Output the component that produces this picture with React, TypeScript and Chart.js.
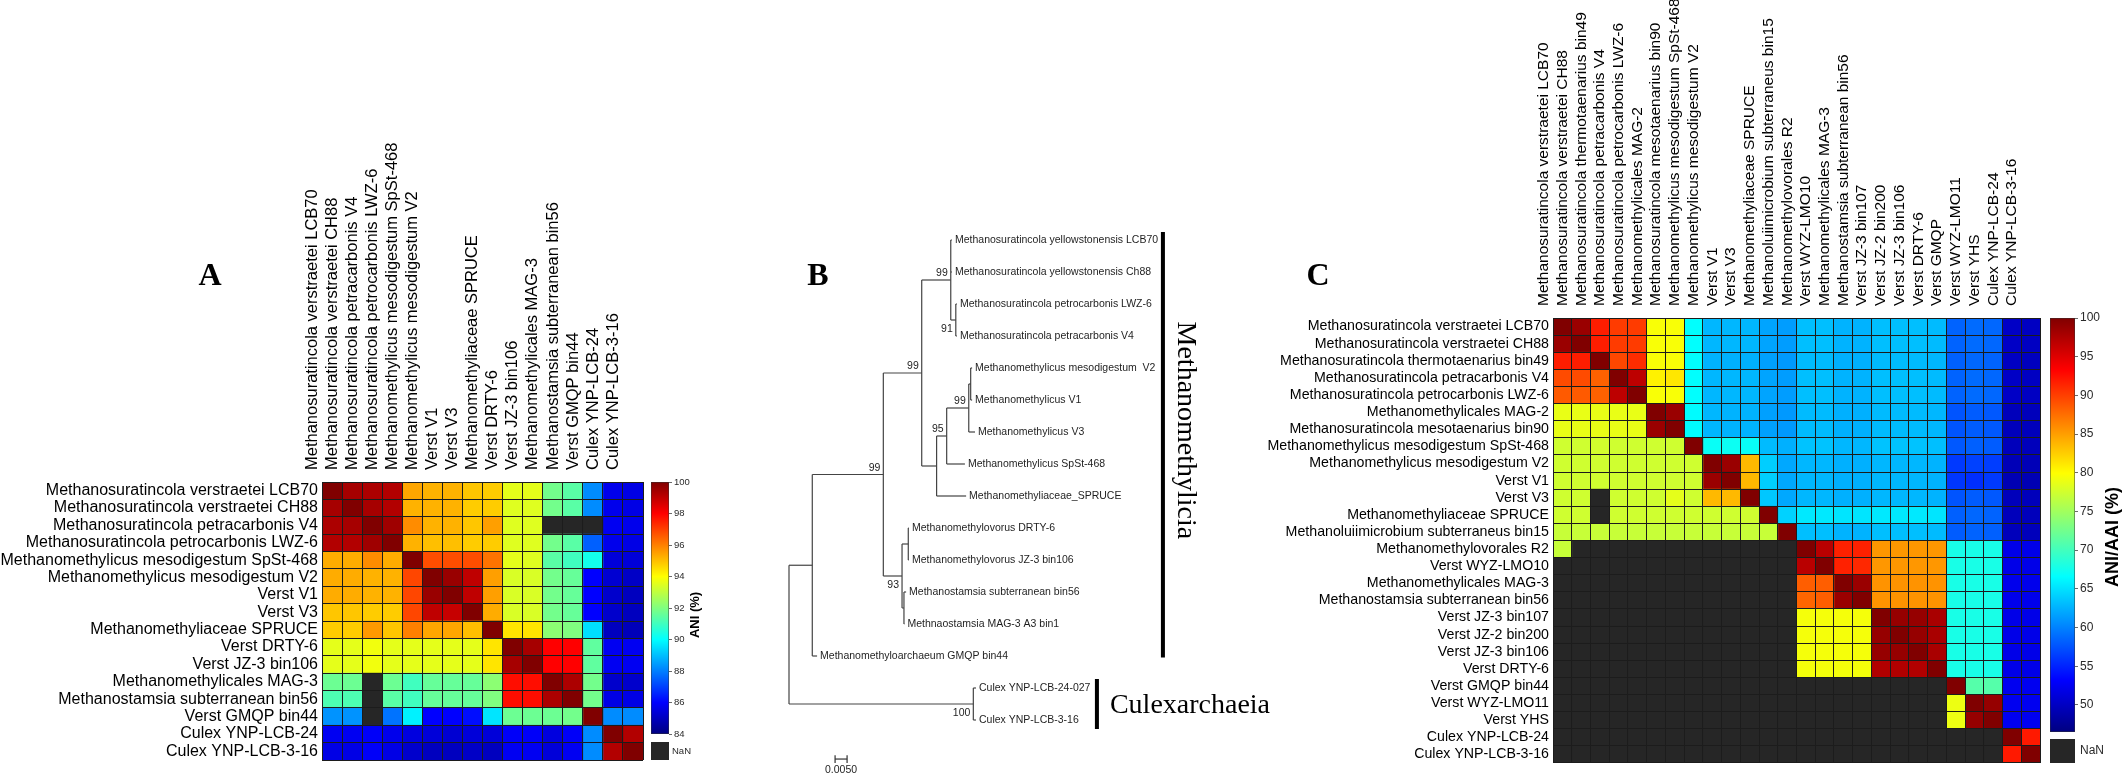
import React, { useEffect, useRef } from 'react';
import { Chart, registerables } from 'chart.js';

Chart.register(...registerables);

const SANS = '"Liberation Sans", Arial, Helvetica, sans-serif';
const SERIF = '"Liberation Serif", "Times New Roman", Times, serif';
const GRID = '#1c1c1c';
const NAN_COLOR = '#262626';

// ================= Panel A : ANI =================
const aniLabels = [
  'Methanosuratincola verstraetei LCB70',
  'Methanosuratincola verstraetei CH88',
  'Methanosuratincola petracarbonis V4',
  'Methanosuratincola petrocarbonis LWZ-6',
  'Methanomethylicus mesodigestum SpSt-468',
  'Methanomethylicus mesodigestum V2',
  'Verst V1',
  'Verst V3',
  'Methanomethyliaceae SPRUCE',
  'Verst DRTY-6',
  'Verst JZ-3 bin106',
  'Methanomethylicales MAG-3',
  'Methanostamsia subterranean bin56',
  'Verst GMQP bin44',
  'Culex YNP-LCB-24',
  'Culex YNP-LCB-3-16',
];
const aniRange = [84, 100];
const aniTicks = [84, 86, 88, 90, 92, 94, 96, 98, 100];
const aniValues: (number | null)[][] = [
  [100, 99.4, 99.3, 99.2, 95.4, 95.2, 95.2, 94.9, 94.8, 93.6, 93.6, 91.8, 91.4, 88.2, 85.7, 85.6],
  [99.4, 100, 99.4, 99.2, 95.2, 95.2, 95.2, 94.8, 94.8, 93.5, 93.5, 91.8, 91.4, 88.2, 85.7, 85.6],
  [99.3, 99.4, 100, 99.5, 95.8, 95.2, 95.2, 94.9, 95.5, 93.5, 93.5, null, null, null, 85.8, 85.7],
  [99.2, 99.2, 99.5, 100, 95.2, 95.0, 95.0, 94.8, 94.8, 93.5, 93.5, 91.8, 91.4, 87.5, 85.7, 85.6],
  [95.3, 95.3, 95.8, 95.3, 100, 96.8, 96.8, 96.8, 96.2, 93.6, 93.5, 91.4, 91.0, 90.3, 85.4, 85.4],
  [95.3, 95.3, 95.2, 95.2, 96.9, 100, 99.6, 99.0, 95.5, 93.4, 93.4, 91.8, 91.6, 86.0, 85.3, 85.1],
  [95.3, 95.3, 95.2, 95.2, 96.9, 99.6, 100, 99.0, 95.5, 93.4, 93.4, 91.8, 91.6, 86.0, 85.2, 85.0],
  [94.9, 94.9, 94.8, 94.8, 96.9, 99.0, 98.9, 100, 95.3, 93.4, 93.4, 91.8, 91.6, 86.0, 85.2, 85.0],
  [94.8, 94.8, 95.6, 94.9, 96.0, 95.4, 95.4, 95.0, 100, 94.4, 94.4, 92.2, 92.0, 89.5, 85.0, 84.9],
  [93.6, 93.6, 93.8, 93.6, 93.6, 93.6, 93.6, 93.6, 94.4, 100, 99.4, 98.0, 98.0, 91.5, 85.8, 85.8],
  [93.6, 93.6, 93.8, 93.6, 93.6, 93.6, 93.6, 93.6, 94.4, 99.4, 100, 98.0, 98.0, 91.5, 85.8, 85.8],
  [91.7, 91.7, null, 91.7, 91.0, 91.6, 91.6, 91.6, 92.2, 97.8, 97.8, 100, 99.3, 91.8, 85.2, 85.2],
  [91.2, 91.2, null, 91.4, 91.0, 91.6, 91.6, 91.6, 92.0, 97.8, 97.8, 99.3, 100, 91.8, 85.6, 85.6],
  [88.3, 88.3, null, 87.8, 89.8, 86.0, 86.0, 86.2, 89.6, 91.7, 91.7, 91.7, 91.8, 100, 88.2, 88.2],
  [85.8, 85.8, 85.9, 85.7, 85.5, 85.4, 85.3, 85.4, 85.4, 85.9, 85.9, 85.5, 85.9, 88.2, 100, 99.2],
  [85.6, 85.6, 85.9, 85.6, 85.2, 85.0, 85.0, 85.1, 85.0, 85.8, 85.8, 85.4, 85.8, 88.2, 99.2, 100],
];

// ================= Panel C : ANI/AAI =================
const aaiRowLabels = [
  'Methanosuratincola verstraetei LCB70',
  'Methanosuratincola verstraetei CH88',
  'Methanosuratincola thermotaenarius bin49',
  'Methanosuratincola petracarbonis V4',
  'Methanosuratincola petrocarbonis LWZ-6',
  'Methanomethylicales MAG-2',
  'Methanosuratincola mesotaenarius bin90',
  'Methanomethylicus mesodigestum SpSt-468',
  'Methanomethylicus mesodigestum V2',
  'Verst V1',
  'Verst V3',
  'Methanomethyliaceae SPRUCE',
  'Methanoluiimicrobium subterraneus bin15',
  'Methanomethylovorales R2',
  'Verst WYZ-LMO10',
  'Methanomethylicales MAG-3',
  'Methanostamsia subterranean bin56',
  'Verst JZ-3 bin107',
  'Verst JZ-2 bin200',
  'Verst JZ-3 bin106',
  'Verst DRTY-6',
  'Verst GMQP bin44',
  'Verst WYZ-LMO11',
  'Verst YHS',
  'Culex YNP-LCB-24',
  'Culex YNP-LCB-3-16',
];
const aaiColLabels = [
  'Methanosuratincola verstraetei LCB70',
  'Methanosuratincola verstraetei CH88',
  'Methanosuratincola thermotaenarius bin49',
  'Methanosuratincola petracarbonis V4',
  'Methanosuratincola petrocarbonis LWZ-6',
  'Methanomethylicales MAG-2',
  'Methanosuratincola mesotaenarius bin90',
  'Methanomethylicus mesodigestum SpSt-468',
  'Methanomethylicus mesodigestum V2',
  'Verst V1',
  'Verst V3',
  'Methanomethyliaceae SPRUCE',
  'Methanoluiimicrobium subterraneus bin15',
  'Methanomethylovorales R2',
  'Verst WYZ-LMO10',
  'Methanomethylicales MAG-3',
  'Methanostamsia subterranean bin56',
  'Verst JZ-3 bin107',
  'Verst JZ-2 bin200',
  'Verst JZ-3 bin106',
  'Verst DRTY-6',
  'Verst GMQP',
  'Verst WYZ-LMO11',
  'Verst YHS',
  'Culex YNP-LCB-24',
  'Culex YNP-LCB-3-16',
];
const aaiRange = [46.5, 100];
const aaiTicks = [50, 55, 60, 65, 70, 75, 80, 85, 90, 95, 100];
const _ = null;
const aaiValues: (number | null)[][] = [
  [100, 98.6, 91.8, 90.2, 90.2, 79.6, 79.6, 66.6, 62.8, 62.8, 62.8, 61.8, 61.4, 63.2, 63.2, 62.6, 62.6, 63.2, 63.2, 63.2, 63.0, 58.4, 58.8, 58.6, 50.2, 50.0],
  [98.6, 100, 91.8, 90.2, 90.2, 79.6, 79.6, 66.6, 62.8, 62.8, 62.8, 61.8, 61.4, 63.2, 63.2, 62.6, 62.6, 63.2, 63.2, 63.2, 63.0, 58.4, 58.8, 58.6, 50.2, 50.0],
  [91.8, 91.8, 100, 89.6, 91.0, 79.6, 79.6, 66.6, 62.6, 62.4, 62.4, 61.6, 61.2, 63.0, 63.0, 62.4, 62.4, 63.0, 63.0, 63.0, 62.8, 58.2, 58.6, 58.4, 50.0, 49.8],
  [89.4, 89.4, 88.2, 100, 96.8, 80.6, 81.2, 66.6, 62.8, 62.8, 62.8, 61.8, 61.4, 63.2, 63.2, 62.6, 62.6, 63.2, 63.2, 63.2, 63.0, 58.4, 58.8, 58.6, 50.2, 50.0],
  [88.6, 88.6, 88.2, 96.8, 100, 79.6, 79.6, 66.6, 62.8, 62.8, 62.8, 61.8, 61.4, 63.2, 63.2, 62.6, 62.6, 63.2, 63.2, 63.2, 63.0, 58.4, 58.8, 58.6, 50.2, 50.0],
  [78.8, 78.8, 78.8, 78.8, 78.8, 100, 98.6, 66.4, 62.8, 62.6, 62.6, 61.6, 61.2, 63.0, 63.0, 62.4, 62.4, 63.0, 63.0, 63.0, 62.8, 57.6, 58.0, 57.8, 49.6, 49.6],
  [78.8, 78.8, 78.8, 78.8, 78.8, 98.6, 100, 66.4, 62.8, 62.6, 62.6, 61.6, 61.2, 63.0, 63.0, 62.4, 62.4, 63.0, 63.0, 63.0, 62.8, 57.6, 58.0, 57.8, 49.6, 49.6],
  [77.4, 77.4, 77.6, 77.4, 77.4, 77.4, 77.4, 100, 67.0, 67.2, 67.0, 63.0, 62.4, 63.4, 63.4, 62.8, 62.8, 63.4, 63.4, 63.4, 63.2, 57.8, 58.2, 58.0, 49.6, 49.6],
  [77.4, 77.4, 77.4, 77.4, 77.4, 77.4, 77.4, 77.4, 100, 98.6, 83.6, 64.0, 62.0, 62.8, 62.8, 62.4, 62.4, 62.8, 62.8, 62.8, 62.6, 56.2, 56.6, 56.4, 49.4, 49.4],
  [77.4, 77.4, 77.4, 77.4, 77.4, 77.4, 77.4, 77.4, 98.6, 100, 83.6, 64.0, 62.0, 62.8, 62.8, 62.4, 62.4, 62.8, 62.8, 62.8, 62.6, 56.0, 55.6, 56.2, 49.2, 49.2],
  [77.4, 77.4, _, 77.4, 77.4, 77.4, 78.6, 77.4, 83.6, 83.6, 100, 63.6, 62.0, 62.8, 62.8, 62.4, 62.4, 62.8, 62.8, 62.8, 62.6, 57.6, 58.0, 57.8, 49.6, 49.6],
  [77.4, 77.4, _, 77.4, 77.4, 77.4, 77.4, 77.4, 77.4, 77.4, 77.4, 100, 64.2, 65.4, 65.4, 65.2, 65.2, 65.4, 65.4, 65.4, 65.2, 58.2, 58.6, 58.4, 49.6, 49.6],
  [77.0, 77.0, 77.0, 77.0, 77.0, 77.0, 77.0, 77.0, 77.0, 77.0, 77.0, 77.0, 100, 63.2, 63.2, 62.6, 62.6, 63.2, 63.2, 63.2, 63.0, 58.0, 58.4, 58.2, 49.6, 49.6],
  [77.0, _, _, _, _, _, _, _, _, _, _, _, _, 100, 97.0, 91.6, 91.6, 85.4, 85.4, 85.4, 85.4, 67.8, 67.8, 67.8, 52.0, 52.0],
  [_, _, _, _, _, _, _, _, _, _, _, _, _, 97.0, 100, 91.6, 91.2, 85.4, 85.4, 85.4, 85.4, 67.8, 67.8, 67.8, 52.0, 52.0],
  [_, _, _, _, _, _, _, _, _, _, _, _, _, 88.4, 88.4, 100, 98.6, 85.6, 85.6, 85.6, 85.6, 67.8, 67.8, 67.8, 52.2, 52.2],
  [_, _, _, _, _, _, _, _, _, _, _, _, _, 88.0, 88.4, 98.6, 100, 85.6, 85.6, 85.6, 85.6, 67.8, 67.8, 67.8, 52.2, 52.2],
  [_, _, _, _, _, _, _, _, _, _, _, _, _, 79.4, 79.4, 79.4, 79.4, 100, 98.8, 98.8, 97.8, 67.8, 67.8, 67.8, 52.0, 52.0],
  [_, _, _, _, _, _, _, _, _, _, _, _, _, 79.4, 79.4, 79.4, 79.4, 98.8, 100, 98.8, 97.8, 67.8, 67.8, 67.8, 52.0, 52.0],
  [_, _, _, _, _, _, _, _, _, _, _, _, _, 79.4, 79.4, 79.4, 79.4, 98.8, 98.8, 100, 97.8, 67.8, 67.8, 67.8, 52.0, 52.0],
  [_, _, _, _, _, _, _, _, _, _, _, _, _, 79.4, 79.4, 79.4, 79.4, 97.4, 97.4, 97.4, 100, 67.8, 67.8, 67.8, 52.0, 52.0],
  [_, _, _, _, _, _, _, _, _, _, _, _, _, _, _, _, _, _, _, _, _, 100, 71.0, 71.0, 52.4, 52.4],
  [_, _, _, _, _, _, _, _, _, _, _, _, _, _, _, _, _, _, _, _, _, 79.0, 100, 98.8, 52.4, 52.4],
  [_, _, _, _, _, _, _, _, _, _, _, _, _, _, _, _, _, _, _, _, _, 79.0, 98.8, 100, 52.4, 52.4],
  [_, _, _, _, _, _, _, _, _, _, _, _, _, _, _, _, _, _, _, _, _, _, _, _, 100, 92.0],
  [_, _, _, _, _, _, _, _, _, _, _, _, _, _, _, _, _, _, _, _, _, _, _, _, 92.0, 100],
];

// ================= Panel B : tree =================
const treeLeafNames = [
  'Methanosuratincola yellowstonensis LCB70',
  'Methanosuratincola yellowstonensis Ch88',
  'Methanosuratincola petrocarbonis LWZ-6',
  'Methanosuratincola petracarbonis V4',
  'Methanomethylicus mesodigestum  V2',
  'Methanomethylicus V1',
  'Methanomethylicus V3',
  'Methanomethylicus SpSt-468',
  'Methanomethyliaceae_SPRUCE',
  'Methanomethylovorus DRTY-6',
  'Methanomethylovorus JZ-3 bin106',
  'Methanostamsia subterranean bin56',
  'Methnaostamsia MAG-3 A3 bin1',
  'Methanomethyloarchaeum GMQP bin44',
  'Culex YNP-LCB-24-027',
  'Culex YNP-LCB-3-16',
];
const treeLeafParent = ['Nd', 'Nd', 'Ne', 'Ne', 'Ni', 'Ni', 'Nh', 'Ng', 'Nf', 'Nk', 'Nk', 'Nl', 'Nl', 'Na', 'Nm', 'Nm'];
// distance from root (substitutions per site)
const treeLeafDepth = [0.0679, 0.0679, 0.07, 0.07, 0.0763, 0.0763, 0.0775, 0.0733, 0.0738, 0.05, 0.05, 0.0488, 0.0481, 0.0117, 0.0779, 0.0779];
const treeNodeIds = ['root', 'Na', 'Nb', 'Nc', 'Nd', 'Ne', 'Nf', 'Ng', 'Nh', 'Ni', 'Nj', 'Nk', 'Nl', 'Nm'];
const treeNodeParent = [null, 'root', 'Na', 'Nb', 'Nc', 'Nd', 'Nc', 'Nf', 'Ng', 'Nh', 'Nb', 'Nj', 'Nj', 'root'];
const treeNodeDepth = [0, 0.0097, 0.0393, 0.0553, 0.0674, 0.0695, 0.0615, 0.0657, 0.0749, 0.0757, 0.0471, 0.0497, 0.0479, 0.0768];
const treeBootstrap = [null, null, 99, 99, 99, 91, null, 95, 99, null, 93, null, null, 100];
const treeBootstrapBelow = [false, false, false, false, false, true, false, false, false, false, true, false, false, true];
const treeScaleBar = 0.005;
const treeScaleBarAt = [0.0192, 16.22];
const clades = [
  { name: 'Methanomethylicia', x: 0.1558, from: -0.25, to: 13.05, rotate: true, labelY: 5.95 },
  { name: 'Culexarchaeia', x: 0.1283, from: 13.72, to: 15.28, rotate: false, labelY: 14.5 },
];

// ================= helpers =================
function jet(t: number): number[] {
  const c = (v: number) => Math.max(0, Math.min(1, v));
  t = c(t);
  return [
    c(Math.min(4 * t - 1.5, -4 * t + 4.5)),
    c(Math.min(4 * t - 0.5, -4 * t + 3.5)),
    c(Math.min(4 * t + 0.5, -4 * t + 2.5)),
  ];
}
function rgb(a: number[]) {
  return `rgb(${Math.round(a[0] * 255)},${Math.round(a[1] * 255)},${Math.round(a[2] * 255)})`;
}
function cellColor(v: number | null, lo: number, hi: number) {
  if (v === null) return NAN_COLOR;
  return rgb(jet((v - lo) / (hi - lo)));
}
const jetStops: [number, string][] = [
  [0, rgb(jet(0))], [0.125, rgb(jet(0.125))], [0.375, rgb(jet(0.375))],
  [0.625, rgb(jet(0.625))], [0.875, rgb(jet(0.875))], [1, rgb(jet(1))],
];

function letterPlugin(text: string, x: number, y: number) {
  return {
    id: 'panelLetter' + text,
    afterDraw(chart: any) {
      const c = chart.ctx;
      c.save();
      c.font = `bold 32px ${SERIF}`;
      c.fillStyle = '#000';
      c.textAlign = 'center';
      c.textBaseline = 'middle';
      c.fillText(text, x, y);
      c.restore();
    },
  };
}

type Area = { l: number; t: number; r: number; b: number };

function heatmapConfig(p: {
  rows: string[]; cols: string[]; values: (number | null)[][]; range: number[];
  w: number; h: number; area: Area; rowFont: number; colFont: number;
  letter: string; letterX: number; letterY: number;
}) {
  const nC = p.cols.length;
  const datasets = p.cols.map((_c, j) => ({
    data: p.rows.map(() => [j, j + 1]),
    backgroundColor: p.rows.map((_r, i) => cellColor(p.values[i][j], p.range[0], p.range[1])),
    borderWidth: 0,
    grouped: false,
    barPercentage: 1,
    categoryPercentage: 1,
  }));
  return {
    type: 'bar',
    data: { labels: p.rows, datasets },
    options: {
      indexAxis: 'y',
      responsive: false,
      maintainAspectRatio: false,
      animation: false,
      devicePixelRatio: 1,
      layout: { padding: { left: 0, top: 0, right: p.w - p.area.r, bottom: p.h - p.area.b } },
      plugins: { legend: { display: false }, tooltip: { enabled: false } },
      scales: {
        x: {
          type: 'linear', min: 0, max: nC, position: 'bottom',
          afterBuildTicks: (s: any) => { s.ticks = Array.from({ length: nC + 1 }, (_v, k) => ({ value: k })); },
          ticks: { display: false },
          grid: { color: GRID, lineWidth: 1, drawTicks: false, z: 1 },
          border: { display: false },
          afterFit: (s: any) => { s.height = 0; },
        },
        xTop: {
          type: 'category', labels: p.cols, position: 'top', offset: true,
          grid: { display: false }, border: { display: false },
          ticks: { autoSkip: false, minRotation: 90, maxRotation: 90, padding: 4, color: '#000', font: { family: SANS, size: p.colFont } },
          afterFit: (s: any) => { s.height = p.area.t; },
        },
        y: {
          type: 'category', offset: true,
          grid: { offset: true, color: GRID, lineWidth: 1, drawTicks: false, z: 1 },
          border: { display: false },
          ticks: { autoSkip: false, padding: 4, color: '#000', font: { family: SANS, size: p.rowFont } },
          afterFit: (s: any) => { s.width = p.area.l; },
        },
      },
    },
    plugins: [letterPlugin(p.letter, p.letterX, p.letterY)],
  };
}

function colorbarConfig(p: {
  range: number[]; ticks: number[]; w: number; h: number; area: Area; tickFont: number;
  title: string; titleFont: number; titleX: number; titleY: number;
  nan: { x: number; y: number; w: number; h: number; tx: number; ty: number };
}) {
  return {
    type: 'bar',
    data: {
      labels: [''],
      datasets: [{
        data: [[p.range[0], p.range[1]]],
        backgroundColor: (c: any) => {
          const a = c.chart.chartArea;
          if (!a) return '#000';
          const g = c.chart.ctx.createLinearGradient(0, a.bottom, 0, a.top);
          jetStops.forEach(([t, col]) => g.addColorStop(t, col));
          return g;
        },
        borderWidth: 0.8,
        borderColor: '#333',
        borderSkipped: false,
        barPercentage: 1,
        categoryPercentage: 1,
      }],
    },
    options: {
      responsive: false,
      maintainAspectRatio: false,
      animation: false,
      devicePixelRatio: 1,
      layout: { padding: { left: p.area.l, top: p.area.t, right: 0, bottom: p.h - p.area.b } },
      plugins: { legend: { display: false }, tooltip: { enabled: false } },
      scales: {
        x: { display: false },
        y: {
          type: 'linear', position: 'right', min: p.range[0], max: p.range[1],
          afterBuildTicks: (s: any) => { s.ticks = p.ticks.map((v) => ({ value: v })); },
          ticks: { color: '#2a2a2a', padding: 2, font: { family: SANS, size: p.tickFont } },
          grid: { display: true, drawOnChartArea: false, drawTicks: true, tickLength: 3, color: '#444', lineWidth: 0.8 },
          border: { display: false },
          afterFit: (s: any) => { s.width = p.w - p.area.r; },
        },
      },
    },
    plugins: [{
      id: 'cbExtras',
      afterDraw(chart: any) {
        const c = chart.ctx;
        c.save();
        c.fillStyle = NAN_COLOR;
        c.fillRect(p.nan.x, p.nan.y, p.nan.w, p.nan.h);
        c.fillStyle = '#2a2a2a';
        c.font = `${p.tickFont}px ${SANS}`;
        c.textAlign = 'left';
        c.textBaseline = 'middle';
        c.fillText('NaN', p.nan.tx, p.nan.ty);
        c.translate(p.titleX, p.titleY);
        c.rotate(-Math.PI / 2);
        c.fillStyle = '#000';
        c.font = `bold ${p.titleFont}px ${SANS}`;
        c.textAlign = 'center';
        c.textBaseline = 'middle';
        c.fillText(p.title, 0, 0);
        c.restore();
      },
    }],
  };
}

function buildTree() {
  const yOf: Record<string, number> = {};
  const xOf: Record<string, number> = {};
  treeNodeIds.forEach((id, k) => { xOf[id] = treeNodeDepth[k]; });
  const children: Record<string, { y: () => number }[]> = {};
  treeNodeIds.forEach((id) => { children[id] = []; });
  const nodeY = (id: string): number => {
    if (yOf[id] !== undefined) return yOf[id];
    const ys = children[id].map((c) => c.y());
    const v = (Math.min(...ys) + Math.max(...ys)) / 2;
    yOf[id] = v;
    return v;
  };
  treeLeafParent.forEach((par, i) => children[par].push({ y: () => i }));
  treeNodeIds.forEach((id, k) => {
    const par = treeNodeParent[k];
    if (par) children[par].push({ y: () => nodeY(id) });
  });
  treeNodeIds.forEach((id) => nodeY(id));

  const segs: { pts: { x: number; y: number }[]; w: number; color: string }[] = [];
  const branch = '#444';
  treeLeafParent.forEach((par, i) => {
    segs.push({ pts: [{ x: xOf[par], y: i }, { x: treeLeafDepth[i], y: i }], w: 1.2, color: branch });
  });
  treeNodeIds.forEach((id, k) => {
    const par = treeNodeParent[k];
    if (par) segs.push({ pts: [{ x: xOf[par], y: yOf[id] }, { x: xOf[id], y: yOf[id] }], w: 1.2, color: branch });
    const kids: number[] = [];
    treeLeafParent.forEach((pp, i) => { if (pp === id) kids.push(i); });
    treeNodeIds.forEach((cid, kk) => { if (treeNodeParent[kk] === id) kids.push(yOf[cid]); });
    segs.push({ pts: [{ x: xOf[id], y: Math.min(...kids) }, { x: xOf[id], y: Math.max(...kids) }], w: 1.2, color: branch });
  });
  const [sx, sy] = treeScaleBarAt;
  segs.push({ pts: [{ x: sx, y: sy }, { x: sx + treeScaleBar, y: sy }], w: 1.2, color: '#333' });
  segs.push({ pts: [{ x: sx, y: sy - 0.12 }, { x: sx, y: sy + 0.12 }], w: 1.2, color: '#333' });
  segs.push({ pts: [{ x: sx + treeScaleBar, y: sy - 0.12 }, { x: sx + treeScaleBar, y: sy + 0.12 }], w: 1.2, color: '#333' });
  clades.forEach((cl) => segs.push({ pts: [{ x: cl.x, y: cl.from }, { x: cl.x, y: cl.to }], w: 4, color: '#000' }));
  return { segs, xOf, yOf };
}

function treeConfig() {
  const { segs, xOf, yOf } = buildTree();
  return {
    type: 'scatter',
    data: {
      datasets: segs.map((s) => ({
        data: s.pts, showLine: true, borderColor: s.color, borderWidth: s.w,
        pointRadius: 0, clip: false, borderCapStyle: 'butt',
      })),
    },
    options: {
      responsive: false,
      maintainAspectRatio: false,
      animation: false,
      devicePixelRatio: 1,
      layout: { padding: { left: 89, right: 31, top: 240, bottom: 56 } },
      plugins: { legend: { display: false }, tooltip: { enabled: false } },
      scales: {
        x: { type: 'linear', display: false, min: 0, max: 0.2 },
        y: { type: 'linear', display: false, min: 0, max: 15, reverse: true },
      },
    },
    plugins: [
      letterPlugin('B', 118, 277),
      {
        id: 'treeText',
        afterDatasetsDraw(chart: any) {
          const { ctx: c, scales } = chart;
          const px = (v: number) => scales.x.getPixelForValue(v);
          const py = (v: number) => scales.y.getPixelForValue(v);
          c.save();
          c.fillStyle = '#1e1e1e';
          c.font = `10.5px ${SANS}`;
          c.textAlign = 'left';
          c.textBaseline = 'middle';
          treeLeafNames.forEach((n, i) => c.fillText(n, px(treeLeafDepth[i]) + 3, py(i)));
          c.textAlign = 'right';
          treeNodeIds.forEach((id, k) => {
            const b = treeBootstrap[k];
            if (b === null) return;
            if (treeBootstrapBelow[k]) {
              c.textBaseline = 'top';
              c.fillText(String(b), px(xOf[id]) - 3, py(yOf[id]) + 4);
            } else {
              c.textBaseline = 'alphabetic';
              c.fillText(String(b), px(xOf[id]) - 3, py(yOf[id]) - 4);
            }
          });
          c.textAlign = 'center';
          c.textBaseline = 'middle';
          c.fillText(treeScaleBar.toFixed(4), px(treeScaleBarAt[0] + treeScaleBar / 2), py(treeScaleBarAt[1]) + 11);
          c.fillStyle = '#000';
          c.font = `28px ${SERIF}`;
          clades.forEach((cl) => {
            if (cl.rotate) {
              c.save();
              c.translate(px(cl.x) + 15, py(cl.labelY));
              c.rotate(Math.PI / 2);
              c.textAlign = 'center';
              c.textBaseline = 'alphabetic';
              c.fillText(cl.name, 0, 0);
              c.restore();
            } else {
              c.textAlign = 'left';
              c.textBaseline = 'alphabetic';
              c.fillText(cl.name, px(cl.x) + 13, py(cl.labelY) + 9);
            }
          });
          c.restore();
        },
      },
    ],
  };
}

// ================= layout =================
const LAYOUT = {
  a: { left: 0, top: 0, w: 650, h: 776 },
  acb: { left: 645, top: 470, w: 100, h: 300 },
  b: { left: 700, top: 0, w: 600, h: 776 },
  c: { left: 1190, top: 0, w: 855, h: 776 },
  ccb: { left: 2045, top: 300, w: 80, h: 476 },
};

export default function App() {
  const refA = useRef<HTMLCanvasElement>(null);
  const refACb = useRef<HTMLCanvasElement>(null);
  const refB = useRef<HTMLCanvasElement>(null);
  const refC = useRef<HTMLCanvasElement>(null);
  const refCCb = useRef<HTMLCanvasElement>(null);

  useEffect(() => {
    const charts: Chart[] = [];
    charts.push(new Chart(refA.current as HTMLCanvasElement, heatmapConfig({
      rows: aniLabels, cols: aniLabels, values: aniValues, range: aniRange,
      w: LAYOUT.a.w, h: LAYOUT.a.h, area: { l: 322, t: 482, r: 643, b: 760 },
      rowFont: 16, colFont: 16.5, letter: 'A', letterX: 210, letterY: 277,
    }) as any));
    charts.push(new Chart(refACb.current as HTMLCanvasElement, colorbarConfig({
      range: aniRange, ticks: aniTicks, w: LAYOUT.acb.w, h: LAYOUT.acb.h,
      area: { l: 6, t: 12, r: 24, b: 264 }, tickFont: 9.5,
      title: 'ANI (%)', titleFont: 13, titleX: 50, titleY: 145,
      nan: { x: 6, y: 272, w: 18, h: 18, tx: 27, ty: 281 },
    }) as any));
    charts.push(new Chart(refB.current as HTMLCanvasElement, treeConfig() as any));
    charts.push(new Chart(refC.current as HTMLCanvasElement, heatmapConfig({
      rows: aaiRowLabels, cols: aaiColLabels, values: aaiValues, range: aaiRange,
      w: LAYOUT.c.w, h: LAYOUT.c.h, area: { l: 363, t: 318, r: 850, b: 763 },
      rowFont: 14.2, colFont: 15.5, letter: 'C', letterX: 128, letterY: 277,
    }) as any));
    charts.push(new Chart(refCCb.current as HTMLCanvasElement, colorbarConfig({
      range: aaiRange, ticks: aaiTicks, w: LAYOUT.ccb.w, h: LAYOUT.ccb.h,
      area: { l: 5, t: 18, r: 30, b: 432 }, tickFont: 12,
      title: 'ANI/AAI (%)', titleFont: 18, titleX: 68, titleY: 237,
      nan: { x: 5, y: 439, w: 25, h: 24, tx: 35, ty: 451 },
    }) as any));
    return () => charts.forEach((c) => c.destroy());
  }, []);

  const cv = (ref: any, b: { left: number; top: number; w: number; h: number }) => (
    <canvas ref={ref} width={b.w} height={b.h}
      style={{ position: 'absolute', left: b.left, top: b.top, width: b.w, height: b.h }} />
  );

  return (
    <div style={{ position: 'absolute', left: 0, top: 0, width: 2125, height: 776, background: '#fff', overflow: 'hidden' }}>
      {cv(refA, LAYOUT.a)}
      {cv(refB, LAYOUT.b)}
      {cv(refC, LAYOUT.c)}
      {cv(refACb, LAYOUT.acb)}
      {cv(refCCb, LAYOUT.ccb)}
    </div>
  );
}
